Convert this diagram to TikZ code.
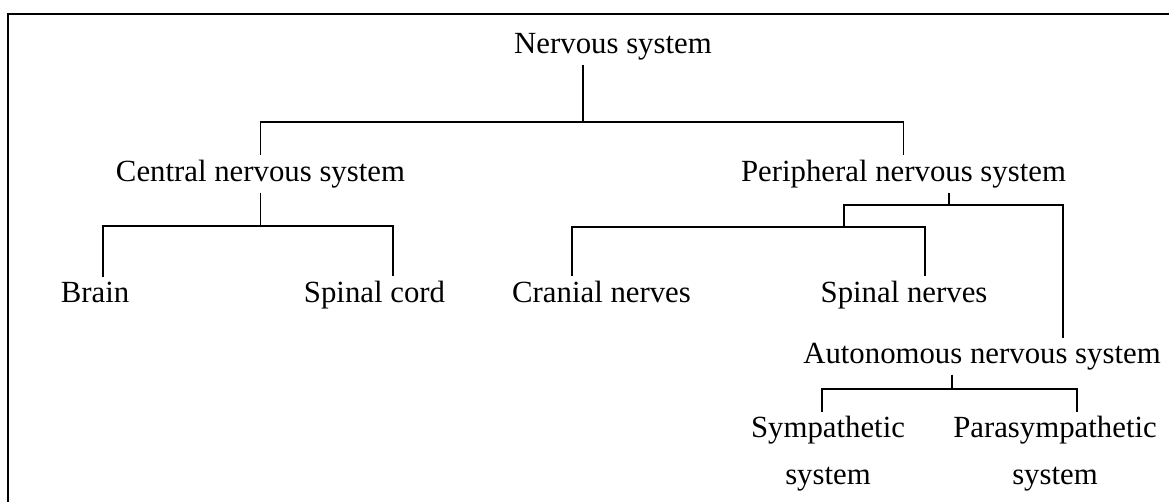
\documentclass[tikz,border=0pt]{standalone}
\usepackage{fontspec}
\setmainfont{Liberation Serif}

\begin{document}
\begin{tikzpicture}[x=0.1mm, y=-0.1mm, line width=0.35pt,
    every node/.style={inner sep=0pt, outer xsep=0pt, outer ysep=1.4pt, anchor=base,
      align=center, font=\fontsize{8.76}{13.1}\selectfont}]
    \useasboundingbox (0,0) rectangle (1169,501);
    \clip (0,0) rectangle (1169,501);
    \draw[line width=0.6pt] (8,520) |- (1190,14);

    \node (ns) at (613,53) {Nervous system};
    \node (cns) at (260.5,181) {Central nervous system};
    \node (pns) at (903.5,181) {Peripheral nervous system};
    \node (brain) at (95,302) {Brain};
    \node (spc) at (374.5,302) {Spinal cord};
    \node (crn) at (601.5,302) {Cranial nerves};
    \node (spn) at (904,302) {Spinal nerves};
    \node (ans) at (982,363) {Autonomous nervous system};
    \node (sym) at (828,484) {Sympathetic\\system};
    \node (par) at (1055,484) {Parasympathetic\\system};

    \coordinate (j1) at (583,122);
    \coordinate (j2l) at (103,226);
    \coordinate (j2r) at (393,226);
    \coordinate (j3) at (949,205);
    \coordinate (j3l) at (844,205);
    \coordinate (j3r) at (1063,205);
    \coordinate (j4l) at (572,227);
    \coordinate (j4r) at (925,227);
    \coordinate (j5) at (952,389);
    \coordinate (j5l) at (822,389);
    \coordinate (j5r) at (1077,389);

    \draw (ns.south -| j1) -- (j1);
    \draw (cns.north) |- (pns.north |- j1) -- (pns.north);

    \draw (cns.south) -- (cns.south |- j2l);
    \draw (brain.north -| j2l) |- (j2r) -- (spc.north -| j2r);

    \draw (pns.south -| j3) -- (j3);
    \draw (j3l |- j4l) |- (j3r) -- (ans.north -| j3r);
    \draw (crn.north -| j4l) |- (j4r) -- (spn.north -| j4r);

    \draw (ans.south -| j5) -- (j5);
    \draw (sym.north -| j5l) |- (j5r) -- (par.north -| j5r);
\end{tikzpicture}
\end{document}
